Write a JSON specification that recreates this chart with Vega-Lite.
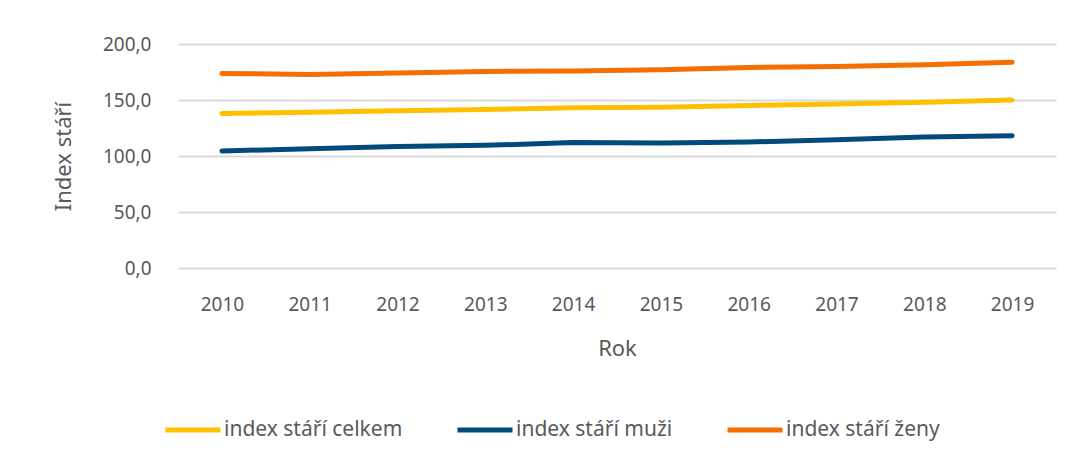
{
  "$schema": "https://vega.github.io/schema/vega-lite/v6.json",
  "width": 878,
  "height": 224,
  "autosize": {"type": "none"},
  "padding": {"left": 178, "top": 44, "right": 17, "bottom": 194},
  "background": "white",
  "config": {
    "view": {"stroke": null},
    "font": "Noto Sans",
    "locale": {"number": {"decimal": ",", "thousands": " ", "grouping": [3], "currency": ["", " Kč"]}}
  },
  "data": {
    "values": [
      {"rok": "2010", "serie": "index stáří celkem", "hodnota": 138.0},
      {"rok": "2011", "serie": "index stáří celkem", "hodnota": 139.0},
      {"rok": "2012", "serie": "index stáří celkem", "hodnota": 140.5},
      {"rok": "2013", "serie": "index stáří celkem", "hodnota": 141.5},
      {"rok": "2014", "serie": "index stáří celkem", "hodnota": 143.0},
      {"rok": "2015", "serie": "index stáří celkem", "hodnota": 143.5},
      {"rok": "2016", "serie": "index stáří celkem", "hodnota": 145.0},
      {"rok": "2017", "serie": "index stáří celkem", "hodnota": 146.5},
      {"rok": "2018", "serie": "index stáří celkem", "hodnota": 148.0},
      {"rok": "2019", "serie": "index stáří celkem", "hodnota": 150.0},
      {"rok": "2010", "serie": "index stáří muži", "hodnota": 104.5},
      {"rok": "2011", "serie": "index stáří muži", "hodnota": 106.5},
      {"rok": "2012", "serie": "index stáří muži", "hodnota": 108.5},
      {"rok": "2013", "serie": "index stáří muži", "hodnota": 109.5},
      {"rok": "2014", "serie": "index stáří muži", "hodnota": 112.0},
      {"rok": "2015", "serie": "index stáří muži", "hodnota": 111.5},
      {"rok": "2016", "serie": "index stáří muži", "hodnota": 112.5},
      {"rok": "2017", "serie": "index stáří muži", "hodnota": 114.5},
      {"rok": "2018", "serie": "index stáří muži", "hodnota": 117.0},
      {"rok": "2019", "serie": "index stáří muži", "hodnota": 118.0},
      {"rok": "2010", "serie": "index stáří ženy", "hodnota": 173.7},
      {"rok": "2011", "serie": "index stáří ženy", "hodnota": 172.8},
      {"rok": "2012", "serie": "index stáří ženy", "hodnota": 174.0},
      {"rok": "2013", "serie": "index stáří ženy", "hodnota": 175.5},
      {"rok": "2014", "serie": "index stáří ženy", "hodnota": 176.0},
      {"rok": "2015", "serie": "index stáří ženy", "hodnota": 177.0},
      {"rok": "2016", "serie": "index stáří ženy", "hodnota": 179.0},
      {"rok": "2017", "serie": "index stáří ženy", "hodnota": 180.0},
      {"rok": "2018", "serie": "index stáří ženy", "hodnota": 181.5},
      {"rok": "2019", "serie": "index stáří ženy", "hodnota": 183.7}
    ]
  },
  "mark": {"type": "line", "strokeWidth": 5, "strokeCap": "round", "strokeJoin": "round"},
  "encoding": {
    "x": {
      "field": "rok", "type": "ordinal",
      "scale": {"type": "point", "padding": 0.5},
      "axis": {
        "title": "Rok", "titleFontSize": 22, "titleFontWeight": "normal", "titleColor": "#595959",
        "titlePadding": 24,
        "labelAngle": 0, "labelFontSize": 19, "labelColor": "#595959", "labelPadding": 27,
        "ticks": false, "domain": false, "grid": false
      }
    },
    "y": {
      "field": "hodnota", "type": "quantitative",
      "scale": {"domain": [0, 200], "nice": false},
      "axis": {
        "title": "Index stáří", "titleFontSize": 22, "titleFontWeight": "normal", "titleColor": "#595959",
        "titlePadding": 27,
        "values": [0, 50, 100, 150, 200], "format": ".1f",
        "labelFontSize": 19, "labelColor": "#595959", "labelPadding": 27,
        "ticks": false, "domain": false,
        "grid": true, "gridColor": "#d9d9d9", "gridWidth": 2
      }
    },
    "color": {
      "field": "serie", "type": "nominal",
      "scale": {
        "domain": ["index stáří celkem", "index stáří muži", "index stáří ženy"],
        "range": ["#FFC000", "#004A7C", "#F76E00"]
      },
      "legend": {
        "title": null, "orient": "none", "direction": "horizontal",
        "legendX": -15, "legendY": 356,
        "symbolType": "stroke", "symbolSize": 3025, "symbolStrokeWidth": 5,
        "labelFontSize": 21, "labelColor": "#595959", "labelOffset": 1,
        "columnPadding": 44, "labelLimit": 300
      }
    }
  }
}
